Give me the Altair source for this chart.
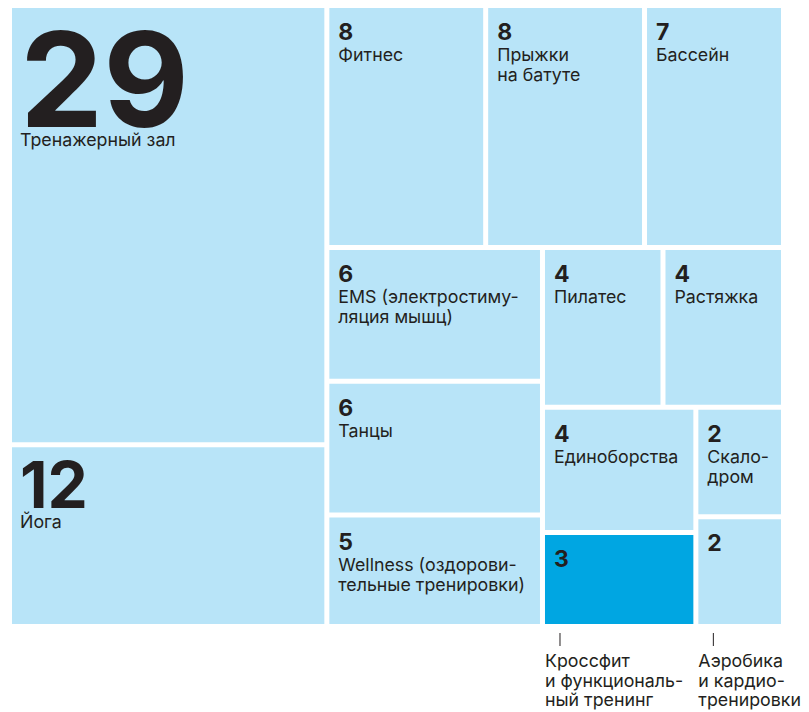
import altair as alt
import pandas as pd

categories = [
    "Тренажерный зал", "Йога", "Фитнес", "Прыжки на батуте", "Бассейн",
    "EMS (электростимуляция мышц)", "Танцы", "Wellness (оздоровительные тренировки)",
    "Пилатес", "Растяжка", "Единоборства", "Кроссфит и функциональный тренинг",
    "Скалодром", "Аэробика и кардиотренировки",
]
values = [29, 12, 8, 8, 7, 6, 6, 5, 4, 4, 4, 3, 2, 2]
labels = [
    "Тренажерный зал", "Йога", "Фитнес", "Прыжки\nна батуте", "Бассейн",
    "EMS (электростиму-\nляция мышц)", "Танцы", "Wellness (оздорови-\nтельные тренировки)",
    "Пилатес", "Растяжка", "Единоборства", "Кроссфит\nи функциональ-\nный тренинг",
    "Скало-\nдром", "Аэробика\nи кардио-\nтренировки",
]
highlight = ["Кроссфит и функциональный тренинг"]
outside = ["Кроссфит и функциональный тренинг", "Аэробика и кардиотренировки"]

# treemap nesting (h = side by side, v = stacked), leaves are indices into the lists above
tree = ("h", [("v", [0, 1]),
              ("v", [("h", [2, 3, 4]),
                     ("h", [("v", [5, 6, 7]),
                            ("v", [("h", [8, 9]),
                                   ("h", [("v", [10, 11]), ("v", [12, 13])])])])])])

W, H, GAP = 774.0, 621.0, 5.0


def total(node):
    if isinstance(node, int):
        return values[node]
    return sum(total(c) for c in node[1])


def layout(node, x0, y0, x1, y1, out):
    if isinstance(node, int):
        out[node] = (x0, y0, x1, y1)
        return
    d, kids = node
    s = total(node)
    pos = x0 if d == "h" else y0
    for k in kids:
        f = total(k) / s
        if d == "h":
            w = (x1 - x0) * f
            layout(k, pos, y0, pos + w, y1, out)
            pos += w
        else:
            h = (y1 - y0) * f
            layout(k, x0, pos, x1, pos + h, out)
            pos += h


rects = {}
layout(tree, 0.0, 0.0, W, H, rects)

rows = []
for i, c in enumerate(categories):
    x0, y0, x1, y1 = rects[i]
    v = values[i]
    tier = "big" if v >= 20 else ("mid" if v >= 10 else "small")
    rows.append(dict(cat=c, value=v, label=labels[i],
                     x0=x0 + GAP / 2, x1=x1 - GAP / 2, y0=y0 + GAP / 2, y1=y1 - GAP / 2,
                     tier=tier, hl=c in highlight, out=c in outside))
df = pd.DataFrame(rows)

DARK = "#231f20"
LIGHT = "#b8e4f8"
BLUE = "#00a6e2"
FONT = "Inter"
NAME_SIZE = 17.8

xs = alt.Scale(domain=[-1.5, 788.5], nice=False, zero=False)
ys = alt.Scale(domain=[2.5, 698.5], nice=False, zero=False, reverse=True)
X = alt.X("x0:Q", scale=xs, axis=None)
Y = alt.Y("y0:Q", scale=ys, axis=None)

base = alt.Chart(df)

cells = base.mark_rect().encode(
    x=X, x2="x1:Q", y=Y, y2="y1:Q",
    color=alt.condition("datum.hl", alt.value(BLUE), alt.value(LIGHT)),
)

styles = {"big": (132, 8, 119, 138), "mid": (64, 8, 61, 81), "small": (23, 9, 32, 53)}
layers = [cells]
for tier, (fs, dx, dyn, dyl) in styles.items():
    sub = base.transform_filter(f"datum.tier == '{tier}'")
    layers.append(sub.mark_text(align="left", baseline="alphabetic", dx=dx, dy=dyn,
                                fontSize=fs, fontWeight="bold", font=FONT, color=DARK)
                  .encode(x=X, y=Y, text="value:Q"))
    layers.append(sub.transform_filter("!datum.out").mark_text(
        align="left", baseline="alphabetic", dx=9 if tier == "small" else 8, dy=dyl,
        fontSize=NAME_SIZE, font=FONT, color=DARK, lineBreak="\n", lineHeight=20)
        .encode(x=X, y=Y, text="label:N"))

outs = base.transform_filter("datum.out")
layers.append(outs.mark_rule(color=DARK, strokeWidth=1, xOffset=15, yOffset=9, y2Offset=22)
              .encode(x=X, y=alt.Y("y1:Q", scale=ys, axis=None), y2="y1:Q"))
layers.append(outs.mark_text(align="left", baseline="alphabetic", dx=0, dy=43,
                             fontSize=NAME_SIZE, font=FONT, color=DARK, lineBreak="\n", lineHeight=19.5)
              .encode(x=X, y=alt.Y("y1:Q", scale=ys, axis=None), text="label:N"))

chart = alt.layer(*layers).properties(width=790, height=696, padding=0).configure_view(strokeWidth=0)

chart.save("out.html", embed_options={"renderer": "svg", "actions": False})
